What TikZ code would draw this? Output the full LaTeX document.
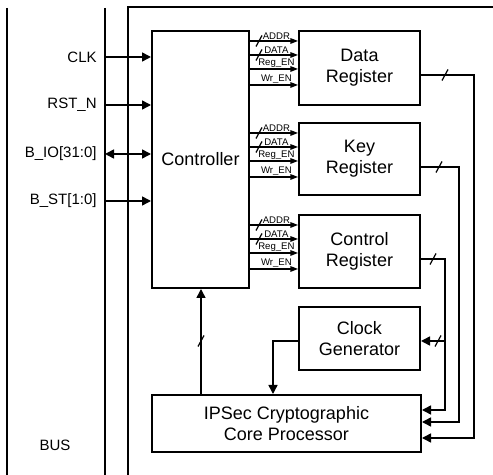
\documentclass[tikz,border=0pt]{standalone}
\usepackage{fontspec}
\setmainfont{Liberation Sans}
\usetikzlibrary{arrows.meta, positioning, calc}
\tikzset{
  bloc/.style={rectangle, draw, line width=1pt, align=center,
    font=\fontsize{9}{10.5}\selectfont, inner sep=0pt},
  fleche/.style={-{Triangle[length=4.5pt, width=4.5pt]}, line width=0.75pt},
  signal/.style={-{Triangle[length=3.8pt, width=2.8pt]}, line width=0.6pt},
  broche/.style={font=\fontsize{7.5}{9}\selectfont, anchor=east, inner sep=0pt},
  petit/.style={font=\fontsize{4.8}{5.5}\selectfont, inner sep=0.5pt},
  rail/.style={line width=1pt},
  barre/.pic={\draw[line width=0.6pt] (-3,5.5) -- (3,-5.5);}
}
\begin{document}
\begin{tikzpicture}[x=0.5pt, y=-0.5pt]
  \useasboundingbox (0,0) rectangle (493,475);

  % bus and module frame
  \draw[rail] (7,8) -- (7,475);
  \draw[rail] (105,8) -- (105,475);
  \draw[rail] (493,7) -- (128,7) -- (128,475);
  \node[broche, anchor=center] (bus) at (55,445) {BUS};

  \node[bloc, minimum width=48.5pt, minimum height=128.5pt] (ctrl) at (200.5,159.5) {Controller};
  \node[bloc, minimum width=60.5pt, minimum height=37pt] (dreg) at (359.5,68) {Data\\Register};
  \node[bloc, minimum width=60.5pt, minimum height=36pt] (kreg) at (359.5,159) {Key\\Register};
  \node[bloc, minimum width=60.5pt, minimum height=36.5pt] (creg) at (359.5,251.5) {Control\\Register};
  \node[bloc, minimum width=60.5pt, minimum height=31.5pt] (cgen) at (359.5,338.5) {Clock\\Generator};
  \node[bloc, minimum width=134.5pt, minimum height=28.5pt] (proc) at (286.5,423.5) {IPSec Cryptographic\\Core Processor};

  % pins
  \foreach \nom/\y [count=\i] in {CLK/57, RST\_N/105, B\_IO[31:0]/154, B\_ST[1:0]/201} {
    \coordinate (in\i) at (105,\y);
    \node[broche] (lab\i) at (97,\y) {\nom};
  }
  \draw[fleche] (in1) -- (ctrl.west |- in1);
  \draw[fleche] (in2) -- (ctrl.west |- in2);
  \draw[fleche, {Triangle[length=4.5pt, width=4.5pt]}-{Triangle[length=4.5pt, width=4.5pt]}] (in3) -- (ctrl.west |- in3);
  \draw[fleche] (in4) -- (ctrl.west |- in4);

  % register control lines
  \foreach \r in {dreg, kreg, creg} {
    \foreach \d/\lab [count=\j] in {11/ADDR, 25/DATA, 39/Reg\_EN, 55/Wr\_EN} {
      \coordinate (\r-s\j) at ($(\r.north west)+(0,\d)$);
      \draw[signal] (ctrl.east |- \r-s\j) -- node[petit, above, pos=0.55] {\lab} (\r-s\j);
    }
    \pic at ($(ctrl.east |- \r-s1)+(9,0)$) {barre};
    \pic at ($(ctrl.east |- \r-s2)+(9,0)$) {barre};
  }

  % outputs to the core
  \coordinate (dout) at ($(dreg.east)+(0,7)$);
  \coordinate (kout) at ($(kreg.east)+(0,8)$);
  \coordinate (cout) at ($(creg.east)+(0,7.5)$);
  \coordinate (cjct) at ($(cout)+(24,0)$);
  \coordinate (cgin) at ($(cgen.east)+(0,2.5)$);
  \coordinate (cgout) at ($(cgen.west)+(0,2.5)$);
  \coordinate (pret) at ($(proc.north west)+(50,0)$);

  \draw[fleche] (dout) -- ++(53,0) |- ($(proc.east)+(0,14.5)$);
  \draw[fleche] (kout) -- ++(38,0) |- ($(proc.east)+(0,-1.5)$);
  \draw[fleche] (cout) -- (cjct) |- ($(proc.east)+(0,-13.5)$);
  \draw[fleche] (cjct |- cgin) -- (cgin);
  \draw[fleche] (cgout) -| ($(proc.north west)+(122,0)$);
  \draw[fleche] (pret) -- (pret |- ctrl.south);

  \pic at ($(dout)+(24,0)$) {barre};
  \pic at ($(kout)+(18,0)$) {barre};
  \pic at ($(cout)+(12,0)$) {barre};
  \pic at ($(cgin)+(17,0)$) {barre};
  \pic at ($(pret)+(0,-53)$) {barre};
\end{tikzpicture}
\end{document}
